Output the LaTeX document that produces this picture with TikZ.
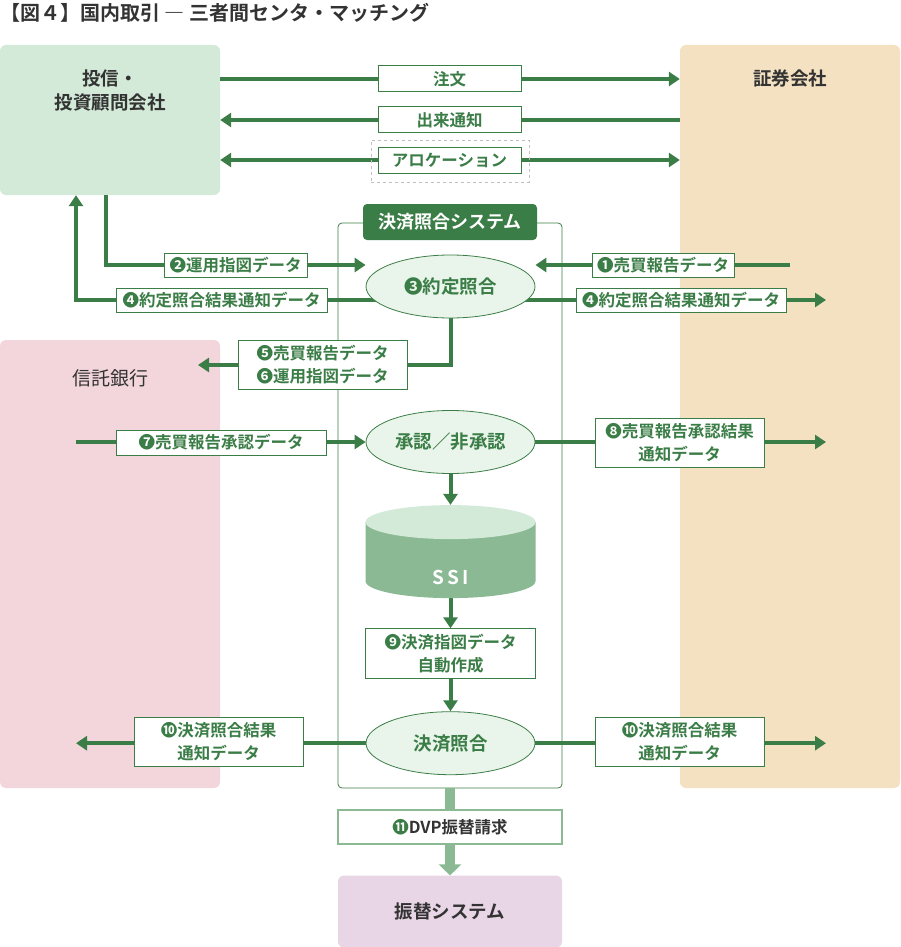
\documentclass[tikz,border=0pt]{standalone}
\usepackage{fontspec}
\setmainfont{Noto Sans CJK JP}[BoldFont={Noto Sans CJK JP Bold}]
\usetikzlibrary{shapes,arrows.meta,positioning,backgrounds}

\definecolor{kgreen}{RGB}{59,125,70}
\definecolor{kpale}{RGB}{138,185,148}
\definecolor{kmint}{RGB}{211,234,216}
\definecolor{kcream}{RGB}{244,225,193}
\definecolor{kpink}{RGB}{243,214,220}
\definecolor{klilac}{RGB}{232,213,230}
\definecolor{kfill}{RGB}{233,245,235}
\definecolor{kgray}{RGB}{51,51,51}

\begin{document}
\begin{tikzpicture}[x=1pt, y=-1pt,
    party/.style={rectangle, rounded corners=6pt, inner sep=0pt, minimum width=220pt},
    partyname/.style={anchor=north, text=kgray, font=\bfseries\fontsize{18.5}{24}\selectfont, align=center},
    datalbl/.style={rectangle, draw=kgreen, line width=1pt, fill=white, text=kgreen, font=\bfseries\fontsize{16.5}{23}\selectfont, align=center, inner sep=0pt},
    checkpt/.style={ellipse, draw=kgreen, line width=0.8pt, fill=kfill, text=kgreen, font=\bfseries\fontsize{18.5}{22}\selectfont, inner sep=0pt, minimum width=169pt, minimum height=63pt},
    flow/.style={draw=kgreen, line width=4pt, >={Triangle[length=11pt, width=14pt]}},
    dvpflow/.style={draw=kpale, line width=10pt, >={Triangle[length=11pt, width=22pt]}}]
    \useasboundingbox (0,0) rectangle (900,947);

    \node (title) [anchor=west, inner sep=0pt, text=kgray, font=\bfseries\fontsize{20}{22}\selectfont] at (0,13) {【図４】国内取引 ― 三者間センタ・マッチング};

    \begin{scope}[on background layer]
    \node (toushin) [party, fill=kmint, minimum height=150pt, label={[partyname, yshift=-21pt]north:{投信・\\投資顧問会社}}] at (110,120) {};
    \node (shoken) [party, fill=kcream, minimum height=743pt, label={[partyname, yshift=-21pt]north:証券会社}] at (790,416.5) {};
    \node (shintaku) [party, fill=kpink, minimum height=448pt, label={[partyname, font=\fontsize{19}{24}\selectfont, yshift=-26pt]north:信託銀行}] at (110,564) {};
    \node (frame) [rectangle, draw=kgreen, line width=0.8pt, rounded corners=4pt, minimum width=224pt, minimum height=565pt] at (450,505.5) {};
    \node (furikae) [party, fill=klilac, minimum width=224pt, minimum height=72pt, text=kgray, font=\bfseries\fontsize{18.5}{24}\selectfont, below=87pt of frame] {振替システム};
    \end{scope}

    \node (systitle) [rectangle, fill=kgreen, rounded corners=4pt, text=white, font=\bfseries\fontsize{18}{20}\selectfont, minimum width=174pt, minimum height=36pt] at (450,222) {決済照合システム};

    \node (allocbox) [rectangle, draw=black!25, dashed, line width=0.8pt, minimum width=158pt, minimum height=42pt] at (450,161) {};
    \node (chumon) [datalbl, minimum width=143pt, minimum height=26pt] at (449.5,79) {注文};
    \node (deki) [datalbl, minimum width=143pt, minimum height=26pt] at (449.5,120) {出来通知};
    \node (alloc) [datalbl, minimum width=143pt, minimum height=26pt] at (449.5,160) {アロケーション};

    \node (yakujo) [checkpt] at (450.5,286.5) {❸約定照合};
    \node (shonin) [checkpt] at (450.5,442) {承認／非承認};
    \node (ssi) [rectangle, inner sep=0pt, minimum width=170pt, minimum height=93pt, below=31pt of shonin,
        path picture={
            \fill[kpale] ([yshift=-17pt]path picture bounding box.north west) -- ([yshift=17pt]path picture bounding box.south west)
                arc[start angle=180, end angle=360, x radius=85pt, y radius=17pt] -- ([yshift=-17pt]path picture bounding box.north east) -- cycle;
            \fill[kmint] ([yshift=-17pt]path picture bounding box.north) ellipse[x radius=85pt, y radius=17pt];
        },
        label={[text=white, font=\bfseries\fontsize{19}{22}\selectfont, yshift=-26pt]center:S\,S\,I}] {};
    \node (auto9) [datalbl, minimum width=170pt, minimum height=50pt, below=30pt of ssi] {❾決済指図データ\\自動作成};
    \node (kessai) [checkpt, below=32pt of auto9] {決済照合};

    \node (unyo2) [datalbl, minimum width=143pt, minimum height=24pt] at (235.5,265) {❷運用指図データ};
    \node (baibai1) [datalbl, minimum width=142pt, minimum height=24pt] at (663,265) {❶売買報告データ};
    \node (kekka4l) [datalbl, minimum width=211pt, minimum height=24pt] at (221.5,300) {❹約定照合結果通知データ};
    \node (kekka4r) [datalbl, minimum width=210pt, minimum height=24pt] at (681,300) {❹約定照合結果通知データ};
    \node (tr56) [datalbl, minimum width=169pt, minimum height=49pt] at (322.5,364.5) {❺売買報告データ\\❻運用指図データ};
    \node (shonin7) [datalbl, minimum width=210pt, minimum height=25pt] at (221,442.5) {❼売買報告承認データ};
    \node (kekka8) [datalbl, minimum width=169pt, minimum height=49pt] at (679.5,442.5) {❽売買報告承認結果\\通知データ};
    \node (kekka10l) [datalbl, minimum width=169pt, minimum height=49pt] at (218.5,741.5) {❿決済照合結果\\通知データ};
    \node (kekka10r) [datalbl, minimum width=169pt, minimum height=49pt] at (679.5,741.5) {❿決済照合結果\\通知データ};
    \node (dvp11) [datalbl, draw=kpale, line width=2pt, text=kgray, minimum width=224pt, minimum height=34pt] at (450,827) {\textcolor{kgreen}{⓫}DVP振替請求};

    \coordinate (leftend) at (76,0);
    \coordinate (rightend) at (826,0);
    \coordinate (trustend) at (198,365);

    \begin{scope}[on background layer]
    \draw[flow,->] (toushin.east |- chumon) -- (shoken.west |- chumon);
    \draw[flow,->] (shoken.west |- deki) -- (toushin.east |- deki);
    \draw[flow,<->] (toushin.east |- alloc) -- (shoken.west |- alloc);
    \draw[flow,->] ([xshift=-4pt]toushin.south) |- (yakujo.west |- unyo2);
    \draw[flow,->] (shoken.center |- baibai1) -- (yakujo.east |- baibai1);
    \draw[flow,->] (yakujo.center |- kekka4l) -| (leftend |- toushin.south);
    \draw[flow,->] (yakujo.center |- kekka4r) -- (rightend |- kekka4r);
    \draw[flow,->] (yakujo.center) |- (trustend);
    \draw[flow,->] (leftend |- shonin) -- (shonin.west);
    \draw[flow,->] (shonin.center) -- (rightend |- shonin);
    \draw[flow,->] (shonin) -- (ssi);
    \draw[flow,->] (ssi) -- (auto9);
    \draw[flow,->] (auto9) -- (kessai);
    \draw[flow,->] (kessai.center) -- (leftend |- kessai);
    \draw[flow,->] (kessai.center) -- (rightend |- kessai);
    \draw[dvpflow,->] (frame) -- (furikae);
    \end{scope}
\end{tikzpicture}
\end{document}
